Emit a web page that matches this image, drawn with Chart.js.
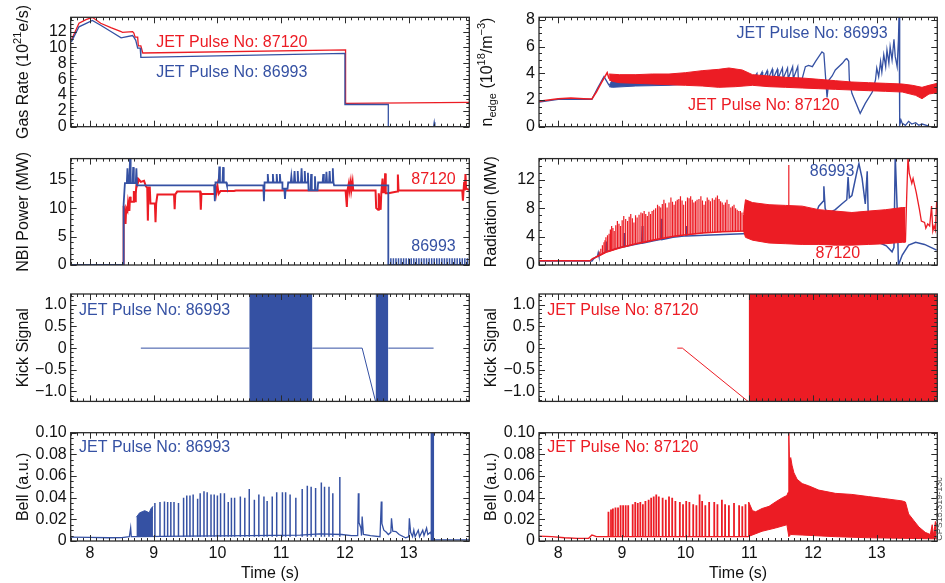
<!DOCTYPE html>
<html>
<head>
<meta charset="utf-8">
<script src="https://cdn.jsdelivr.net/npm/chart.js@4.4.1/dist/chart.umd.min.js"></script>
<style>
  body { margin: 0; background: #fff; }
  #wrap { position: relative; width: 945px; height: 583px; overflow: hidden; }
  #wrap canvas { position: absolute; }
</style>
</head>
<body>
<div id="wrap"></div>
<script>
// --- values (time in s) ---
const timeRange = [7.7, 13.95];
const timeTicks = [8, 9, 10, 11, 12, 13];

// gas rate (10^21 e/s)
const gasTicks = [0, 2, 4, 6, 8, 10, 12];
const gas87120 = [[7.71,10.9],[7.83,13.05],[7.94,13.5],[8.04,13.8],[8.17,13.05],[8.33,12.5],[8.49,12.0],[8.51,11.9],[8.67,12.0],[8.69,11.8],[8.71,11.3],[8.75,11.3],[8.76,10.2],[8.80,10.2],[8.83,9.3],[12.01,9.7],[12.01,2.95],[13.95,3.07]];
const gas86993 = [[7.71,10.7],[7.83,12.6],[7.96,13.1],[8.04,13.4],[8.17,12.8],[8.33,12.0],[8.49,11.2],[8.67,11.5],[8.69,11.3],[8.72,10.9],[8.75,9.9],[8.79,9.9],[8.80,8.75],[12.0,9.26],[12.0,2.8],[12.68,2.8],[12.68,0],[13.39,0],[13.40,0.55],[13.41,0],[13.95,0]];

// edge density (10^18 /m^3)
const nedgeTicks = [0, 2, 4, 6, 8];
const nedge87120 = [[7.70,1.9],[7.85,2.0],[8.0,2.1],[8.2,2.15],[8.4,2.1],[8.53,2.08],[8.60,2.6],[8.68,3.3],[8.77,4.05],[8.80,3.6]];
const nedge87120Hi = [[8.80,3.95],[8.96,3.9],[9.22,3.9],[9.48,3.95],[9.74,3.95],[10.0,4.05],[10.26,4.2],[10.52,4.3],[10.68,4.4],[10.89,4.25],[11.05,3.9],[11.31,3.8],[11.57,3.7],[11.83,3.65],[12.09,3.55],[12.35,3.45],[12.61,3.35],[12.87,3.3],[13.14,3.25],[13.40,3.2],[13.56,3.1],[13.71,2.95],[13.82,3.1],[13.95,3.25]];
const nedge87120Lo = [[8.80,3.5],[8.85,3.4],[8.96,3.3],[9.22,3.25],[9.48,3.2],[9.74,3.15],[10.0,3.1],[10.26,3.05],[10.52,2.95],[10.78,3.0],[11.05,3.1],[11.31,3.0],[11.57,2.95],[11.83,2.9],[12.09,2.85],[12.35,2.8],[12.61,2.75],[12.87,2.7],[13.14,2.65],[13.40,2.6],[13.61,2.35],[13.71,2.1],[13.82,2.45],[13.95,2.55]];
const nedge86993 = [[7.70,1.85],[8.0,2.05],[8.4,2.05],[8.53,2.05],[8.62,2.9],[8.72,3.75],[8.80,3.1]];
const nedge86993Hi = [[8.80,3.1],[8.85,3.5],[9.22,3.8],[9.74,3.9],[10.26,4.0],[10.78,4.0],[11.05,3.8]];
const nedge86993Lo = [[8.80,3.0],[8.85,2.95],[9.22,3.05],[9.74,3.1],[10.26,3.25],[10.78,3.3],[11.05,3.4]];
const nedge86993Saw = [[11.05,3.5],[11.12,4.0],[11.13,3.45],[11.20,4.1],[11.21,3.5],[11.28,4.2],[11.29,3.5],[11.36,4.3],[11.37,3.55],[11.44,4.3],[11.45,3.6],[11.52,4.4],[11.53,3.6],[11.60,4.4],[11.61,3.6],[11.68,4.5],[11.69,3.6],[11.76,4.5],[11.77,3.6],[11.83,3.6]];
const nedge86993Tail = [[11.83,3.6],[11.88,4.5],[11.93,4.6],[11.99,4.5],[12.04,4.9],[12.14,5.6],[12.17,5.5],[12.20,3.5],[12.22,2.2],[12.25,3.5],[12.30,3.8],[12.35,4.25],[12.46,4.75],[12.51,5.05],[12.53,5.1],[12.56,4.9],[12.57,3.5],[12.61,2.5],[12.74,1.0],[12.82,1.75],[12.93,2.6],[12.98,3.5],[13.00,4.4],[13.03,3.75],[13.06,4.9],[13.08,4.1],[13.11,5.4],[13.14,4.5],[13.16,5.75],[13.19,4.75],[13.21,6.0],[13.24,5.0],[13.27,6.55],[13.29,5.25],[13.32,4.5],[13.34,6.5],[13.35,8.5],[13.36,0.1],[13.38,0.5],[13.40,0.25],[13.45,0.1],[13.50,0.4],[13.55,0.2],[13.61,0.3],[13.66,0.1],[13.71,0.2],[13.82,0.05]];

// NBI power (MW)
const nbiTicks = [0, 5, 10, 15];
const nbi87120 = [[7.70,0],[8.53,0],[8.53,10.4],[8.55,9.0],[8.56,7.2],[8.57,10.0],[8.59,9.5],[8.60,11.0],[8.62,9.5],[8.63,12.0],[8.64,11.1],[8.68,11.1],[8.69,13.0],[8.71,11.2],[8.72,12.5],[8.74,15.4],[8.75,14.3],[8.77,15.0],[8.80,14.6],[8.85,14.8],[8.88,13.8],[8.90,13.6],[8.91,7.8],[8.92,13.6],[8.94,13.6],[8.95,10.8],[9.02,10.8],[9.03,7.5],[9.04,10.8],[9.06,12.4],[9.32,12.4],[9.33,9.8],[9.34,12.4],[9.37,12.9],[9.73,12.9],[9.74,9.7],[9.75,12.5],[9.95,12.5],[9.96,14.2],[9.98,12.5],[10.0,14.0],[10.02,12.5],[10.05,13.0],[10.26,13.0],[10.29,13.1],[12.01,13.1],[12.03,10.2],[12.04,13.1],[12.06,14.3],[12.07,13.1],[12.09,14.6],[12.10,13.1],[12.12,14.6],[12.13,13.1],[12.48,13.1],[12.49,10.0],[12.52,9.7],[12.53,12.6],[12.56,9.7],[12.57,12.6],[12.59,15.2],[12.60,12.8],[12.62,12.8],[12.63,16.1],[12.64,12.6],[12.68,12.6],[12.72,12.7],[12.82,12.9],[12.83,15.9],[12.84,13.1],[13.84,13.1],[13.85,11.3],[13.86,13.1],[13.87,14.6],[13.88,13.1],[13.89,16.0],[13.90,13.4],[13.95,13.2]];
const nbi86993 = [[7.70,0],[8.53,0],[8.53,10.7],[8.55,14.4],[8.58,14.4],[8.59,17.0],[8.60,14.4],[8.62,14.4],[8.63,18.7],[8.64,14.4],[8.67,14.4],[8.68,17.2],[8.69,14.4],[8.72,14.4],[8.73,17.0],[8.74,14.0],[9.95,14.0],[9.96,11.2],[9.97,14.5],[10.02,14.5],[10.03,17.3],[10.04,14.5],[10.08,14.5],[10.09,17.2],[10.10,14.5],[10.14,14.5],[10.15,14.0],[10.72,14.0],[10.73,11.2],[10.74,14.5],[10.78,14.5],[10.79,16.0],[10.80,14.5],[10.86,14.5],[10.87,16.0],[10.88,14.5],[10.92,14.5],[10.93,16.0],[10.94,14.5],[10.97,14.5],[10.98,16.0],[10.99,14.5],[11.02,14.5],[11.02,13.4],[11.05,13.4],[11.06,11.6],[11.07,13.4],[11.10,13.4],[11.11,14.5],[11.15,14.5],[11.16,15.6],[11.17,14.5],[11.20,14.5],[11.21,16.5],[11.22,14.5],[11.25,14.5],[11.26,16.5],[11.27,14.5],[11.31,14.5],[11.32,17.0],[11.33,14.5],[11.36,14.5],[11.37,16.5],[11.38,14.5],[11.41,14.5],[11.42,16.2],[11.43,13.1],[11.46,13.1],[11.47,16.0],[11.48,13.1],[11.52,13.1],[11.53,15.6],[11.54,13.1],[11.57,13.1],[11.58,14.5],[11.65,14.5],[11.66,16.0],[11.67,14.5],[11.70,14.5],[11.71,16.4],[11.72,14.5],[11.75,14.5],[11.76,16.5],[11.77,14.5],[11.80,14.5],[11.81,17.0],[11.82,14.5],[11.83,14.0],[12.68,14.0],[12.68,0],[13.95,0]];
const nbi86993Comb = [12.72,12.76,12.80,12.84,12.88,12.92,12.96,13.00,13.04,13.08,13.12,13.16,13.20,13.24,13.28,13.32,13.36,13.40,13.44,13.48,13.52,13.56,13.60,13.64,13.68,13.72,13.76,13.80,13.84,13.88,13.92];
const nbiCombTop = 1.2;

// radiation (MW)
const radTicks = [0, 4, 8, 12];
const rad87120Base = [[7.70,0.6],[8.50,0.6],[8.54,0.9],[8.62,1.2],[8.75,1.8],[8.96,2.4],[9.22,3.0],[9.53,3.6],[9.84,4.1],[10.26,4.5],[10.58,4.7],[10.94,4.8]];
const rad87120SpikeT = [8.62,8.67,8.72,8.75,8.80,8.84,8.88,8.93,8.98,9.03,9.09,9.14,9.19,9.24,9.30,9.35,9.40,9.45,9.50,9.56,9.61,9.66,9.71,9.77,9.82,9.87,9.92,9.97,10.03,10.08,10.13,10.18,10.24,10.29,10.34,10.39,10.45,10.50,10.55,10.60,10.65,10.71,10.76,10.81,10.86,10.91,11.62];
const rad87120SpikeLo = [1.2,1.4,1.6,1.8,1.9,2.0,2.1,2.3,2.4,2.5,2.6,2.8,2.9,3.0,3.0,3.1,3.2,3.3,3.4,3.5,3.6,3.7,3.8,3.9,4.0,4.0,4.1,4.2,4.2,4.3,4.3,4.4,4.4,4.5,4.5,4.5,4.6,4.6,4.6,4.7,4.7,4.7,4.7,4.8,4.8,4.8,8.4];
const rad87120SpikeHi = [1.4,2.3,3.2,3.9,4.4,5.5,4.8,6.2,5.5,6.9,6.2,7.2,6.0,6.7,7.4,7.6,6.9,7.2,7.8,8.5,8.1,9.2,8.1,9.5,8.5,9.2,9.7,8.5,9.5,9.7,8.8,9.2,9.7,8.5,9.5,9.0,9.2,9.8,9.0,8.5,9.2,8.1,8.5,7.8,7.6,7.1,14.1];
const rad87120MinorT = [8.645,8.695,8.735,8.775,8.82,8.86,8.905,8.955,9.005,9.06,9.115,9.165,9.215,9.27,9.325,9.375,9.425,9.475,9.53,9.585,9.635,9.685,9.74,9.795,9.845,9.895,9.945,10.0,10.055,10.105,10.155,10.21,10.265,10.315,10.365,10.42,10.475,10.525,10.575,10.625,10.68,10.735,10.785,10.835,10.885];
const rad87120MinorLo = [1.3,1.5,1.7,1.85,1.95,2.05,2.2,2.35,2.45,2.55,2.7,2.85,2.95,3.0,3.05,3.15,3.25,3.35,3.45,3.55,3.65,3.75,3.85,3.95,4.0,4.05,4.15,4.2,4.25,4.3,4.35,4.4,4.45,4.5,4.5,4.55,4.6,4.6,4.65,4.7,4.7,4.7,4.75,4.8,4.8];
const rad87120MinorHi = [1.9,2.8,3.5,4.2,5.0,5.2,5.6,5.8,6.3,6.5,6.8,6.6,7.0,7.1,7.3,7.2,7.5,7.6,8.0,8.3,8.6,8.7,8.8,8.9,9.0,9.3,9.1,9.0,9.4,9.2,9.0,9.3,9.1,9.0,9.2,9.4,9.5,9.3,8.8,8.8,8.6,8.3,8.0,7.6,7.4];
const rad87120Hi = [[10.91,7.1],[10.94,9.2],[11.05,8.8],[11.31,8.5],[11.57,8.4],[11.83,8.3],[12.09,7.8],[12.35,7.6],[12.61,7.4],[12.87,7.6],[13.14,7.8],[13.40,8.1],[13.45,8.1]];
const rad87120Lo = [[10.91,4.8],[10.94,3.9],[11.05,3.5],[11.31,3.1],[11.57,3.0],[11.83,2.9],[12.09,2.9],[12.35,2.8],[12.61,2.8],[12.87,2.9],[13.14,3.0],[13.40,3.2],[13.45,3.2]];
const rad87120Tail = [[13.45,3.2],[13.47,9.7],[13.49,15.2],[13.51,12.9],[13.55,11.5],[13.57,12.2],[13.62,10.2],[13.67,7.8],[13.70,6.2],[13.75,6.0],[13.77,5.2],[13.80,5.8],[13.83,5.5],[13.86,8.3],[13.88,4.8],[13.90,5.5],[13.92,4.9],[13.94,9.0]];
const rad86993 = [[7.70,0.55],[8.53,0.55],[8.56,0.9],[8.62,1.3],[8.63,1.7],[8.64,1.3],[8.75,1.9],[8.76,3.3],[8.77,1.9],[8.90,2.3],[9.03,2.6],[9.04,4.5],[9.05,2.6],[9.20,2.9],[9.31,3.1],[9.32,5.5],[9.33,3.1],[9.50,3.4],[9.61,3.6],[9.62,6.5],[9.63,3.6],[9.80,3.9],[10.00,4.1],[10.01,5.5],[10.02,4.1],[10.30,4.2],[10.60,4.3],[10.90,4.4],[11.20,4.5],[11.50,4.8],[11.80,5.0],[12.00,6.0],[12.09,8.3],[12.16,9.0],[12.17,11.1],[12.19,8.0],[12.22,7.2],[12.35,7.8],[12.45,8.6],[12.53,9.2],[12.55,12.4],[12.57,9.5],[12.61,9.8],[12.69,13.2],[12.72,14.3],[12.77,12.2],[12.82,8.6],[12.85,13.2],[12.87,5.5],[12.92,3.7],[13.05,3.1],[13.15,2.7],[13.24,1.85],[13.27,2.5],[13.29,15.5],[13.32,8.0],[13.34,0],[13.40,1.4],[13.50,2.8],[13.61,3.2],[13.75,2.9],[13.94,2.1]];

// kick signal
const kickTicks = [-1, -0.5, 0, 0.5, 1];
const kickLabels = ['\u22121.0', '\u22120.5', '0', '0.5', '1.0'];
const kick86993Flat = [[[8.80,0],[10.50,0]], [[11.49,0],[12.27,0],[12.48,-1.23]], [[12.68,0],[13.39,0]]];
const kick86993Bursts = [[10.50, 11.49], [12.48, 12.68]];
const kick87120Flat = [[[9.87,0],[9.95,0],[10.98,-1.23]]];
const kick87120Bursts = [[10.99, 13.95]];

// bell (a.u.)
const bellTicks = [0, 0.02, 0.04, 0.06, 0.08, 0.10];
const bellLabels = ['0', '0.02', '0.04', '0.06', '0.08', '0.10'];
const bellFloor = 0.004;
const bell86993Base = [[7.70,0.0035],[8.0,0.0033],[8.3,0.003],[8.50,0.0032],[8.62,0.004],[8.64,0.012],[8.65,0.004],[8.75,0.004],[9.5,0.0045],[10.5,0.005],[11.3,0.0055],[11.6,0.0065],[11.95,0.006],[12.1,0.005],[12.20,0.005],[12.21,0.044],[12.22,0.017],[12.25,0.012],[12.26,0.005],[12.27,0.0226],[12.29,0.006],[12.40,0.005],[12.55,0.004],[12.57,0.0365],[12.58,0.016],[12.61,0.010],[12.65,0.008],[12.68,0.006],[12.72,0.008],[12.73,0.021],[12.75,0.009],[12.80,0.0087],[12.85,0.006],[12.95,0.003],[13.00,0.004],[13.01,0.021],[13.03,0.008],[13.06,0.004],[13.08,0.010],[13.10,0.004],[13.15,0.010],[13.17,0.004],[13.22,0.010],[13.24,0.005],[13.28,0.012],[13.30,0.006],[13.34,0.008],[13.40,0.001],[13.95,0.001]];
const bell86993Block = [[8.73,0.022],[8.78,0.026],[8.82,0.027],[8.86,0.028],[8.90,0.027],[8.93,0.026],[8.96,0.030],[8.99,0.032]];
const bell86993SpikeT = [9.02,9.10,9.17,9.22,9.27,9.32,9.39,9.47,9.52,9.57,9.62,9.69,9.73,9.79,9.84,9.90,9.95,10.00,10.05,10.11,10.17,10.22,10.27,10.36,10.43,10.50,10.58,10.65,10.73,10.78,10.86,10.93,11.02,11.07,11.14,11.23,11.33,11.41,11.47,11.54,11.63,11.68,11.75,11.81,11.92];
const bell86993SpikeHi = [0.035,0.036,0.0365,0.036,0.036,0.036,0.035,0.040,0.042,0.042,0.043,0.039,0.044,0.046,0.045,0.043,0.043,0.042,0.044,0.044,0.036,0.040,0.040,0.041,0.040,0.048,0.038,0.043,0.041,0.037,0.041,0.045,0.045,0.045,0.043,0.040,0.048,0.051,0.050,0.049,0.054,0.050,0.050,0.044,0.059];
const bell86993Bursts = [[13.34, 13.40]];
const bell87120Base = [[7.70,0.0045],[7.90,0.004],[8.10,0.003],[8.30,0.0025],[8.48,0.0025],[8.53,0.0055],[8.56,0.005],[8.60,0.004],[10.98,0.004]];
const bell87120SpikeT = [8.79,8.83,8.86,8.90,8.94,8.98,9.02,9.06,9.10,9.17,9.21,9.25,9.29,9.33,9.37,9.42,9.46,9.50,9.54,9.58,9.64,9.69,9.74,9.79,9.84,9.91,9.96,10.01,10.06,10.12,10.17,10.22,10.26,10.31,10.37,10.45,10.50,10.57,10.62,10.68,10.76,10.84,10.89,10.94];
const bell87120SpikeHi = [0.027,0.029,0.030,0.031,0.031,0.033,0.033,0.033,0.033,0.034,0.036,0.035,0.036,0.034,0.037,0.038,0.040,0.041,0.043,0.041,0.040,0.038,0.041,0.040,0.037,0.036,0.034,0.037,0.036,0.034,0.033,0.043,0.037,0.033,0.036,0.036,0.034,0.038,0.034,0.033,0.035,0.033,0.032,0.034];
const bell87120Hi = [[10.98,0.004],[10.99,0.036],[11.05,0.028],[11.10,0.027],[11.20,0.030],[11.31,0.032],[11.41,0.036],[11.52,0.040],[11.59,0.042],[11.61,0.045],[11.62,0.10],[11.63,0.075],[11.65,0.077],[11.67,0.070],[11.70,0.063],[11.75,0.057],[11.83,0.053],[11.93,0.051],[12.09,0.047],[12.35,0.044],[12.61,0.043],[12.87,0.041],[13.14,0.039],[13.40,0.037],[13.45,0.036],[13.50,0.025],[13.58,0.019],[13.66,0.013],[13.76,0.008],[13.84,0.006],[13.87,0.015],[13.89,0.005],[13.92,0.018],[13.94,0.015]];
const bell87120Lo = [[10.98,0.004],[11.20,0.009],[11.41,0.012],[11.59,0.015],[11.62,0.004],[11.65,0.006],[11.83,0.0055],[12.35,0.004],[12.87,0.003],[13.40,0.0025],[13.94,0.002]];

// --- drawing ---
const RED = '#ec1c24';
const BLUE = '#3551a3';
const INK = '#111';
Chart.defaults.font.family = '"Liberation Sans", Arial, Helvetica, sans-serif';
Chart.defaults.font.size = 16;
Chart.defaults.color = INK;

const COLS = [
  { left: 0, width: 470, yWidth: 70.7, padRight: 0.7, titleX: 28.3 },
  { left: 470, width: 475, yWidth: 69, padRight: 7.7, titleX: 25.5 }
];
const ROWS = [
  { top: 0, height: 145, padTop: 17.3, padBottom: 18.3 },
  { top: 145, height: 135, padTop: 11.7, padBottom: 15 },
  { top: 280, height: 135, padTop: 14, padBottom: 11.7 },
  { top: 415, height: 168, padTop: 17.7, padBottom: 0, xAxis: 42 }
];

const pts = arr => arr.map(([x, y]) => ({ x, y }));
const spikes = (times, lows, highs) => times.flatMap((t, i) => [{ x: t, y: lows[i] }, { x: t, y: highs[i] }, { x: t, y: null }]);
const pieces = list => list.flatMap(s => [...pts(s), { x: s[s.length - 1][0], y: null }]);

function line(data, color, width, extra) {
  return Object.assign({
    data, borderColor: color, backgroundColor: color, borderWidth: width,
    pointRadius: 0, fill: false, tension: 0, spanGaps: false, clip: 0
  }, extra || {});
}
function band(lo, hi, color) {
  return [line(pts(lo), color, 1), line(pts(hi), color, 1, { fill: '-1' })];
}
function bursts(pairs, color, lo, hi) {
  return pairs.map(([s, e]) => line([{ x: s, y: hi }, { x: e, y: hi }], color, 0, { fill: { value: lo } }));
}
function constant(list, v) { return list.map(() => v); }

function drawRich(ctx, parts, bx, cy) {
  ctx.save();
  ctx.translate(bx, cy);
  ctx.rotate(-Math.PI / 2);
  ctx.fillStyle = INK;
  ctx.textBaseline = 'alphabetic';
  const font = p => (p.s ? '11px' : '16px') + ' "Liberation Sans", Arial, sans-serif';
  let w = 0;
  parts.forEach(p => { ctx.font = font(p); w += ctx.measureText(p.t).width; });
  let cx = -w / 2;
  parts.forEach(p => {
    ctx.font = font(p);
    ctx.fillText(p.t, cx, p.s === 'sup' ? -7 : p.s === 'sub' ? 4 : 0);
    cx += ctx.measureText(p.t).width;
  });
  ctx.restore();
}

function framePlugin(cfg, col) {
  return {
    id: 'frame',
    afterDatasetsDraw(chart) {
      const { ctx, chartArea: a, scales: { x, y } } = chart;
      ctx.save();
      ctx.strokeStyle = '#2a2a2a';
      ctx.lineWidth = 1;
      ctx.beginPath();
      const n0 = Math.ceil(x.min * 10 - 1e-6), n1 = Math.floor(x.max * 10 + 1e-6);
      for (let n = n0; n <= n1; n++) {
        const px = Math.round(x.getPixelForValue(n / 10)) + 0.5;
        const len = n % 10 === 0 ? 6 : 3;
        ctx.moveTo(px, a.bottom); ctx.lineTo(px, a.bottom - len);
        ctx.moveTo(px, a.top); ctx.lineTo(px, a.top + len);
      }
      const m0 = Math.ceil(y.min / cfg.minor - 1e-6), m1 = Math.floor(y.max / cfg.minor + 1e-6);
      for (let m = m0; m <= m1; m++) {
        const v = m * cfg.minor;
        const py = Math.round(y.getPixelForValue(v)) + 0.5;
        const major = cfg.yTicks.some(t => Math.abs(t - v) < cfg.minor / 10);
        const len = major ? 6 : 3;
        ctx.moveTo(a.left, py); ctx.lineTo(a.left + len, py);
        ctx.moveTo(a.right, py); ctx.lineTo(a.right - len, py);
      }
      ctx.stroke();
      ctx.lineWidth = 1.3;
      ctx.strokeRect(a.left, a.top, a.right - a.left, a.bottom - a.top);
      ctx.restore();
    },
    afterDraw(chart) {
      const { ctx, chartArea: a, scales: { x, y } } = chart;
      ctx.save();
      ctx.font = '16px "Liberation Sans", Arial, sans-serif';
      ctx.textAlign = 'left';
      ctx.textBaseline = 'alphabetic';
      (cfg.notes || []).forEach(n => {
        ctx.fillStyle = n.c;
        ctx.fillText(n.t, x.getPixelForValue(n.x), y.getPixelForValue(n.y));
      });
      ctx.restore();
      drawRich(ctx, cfg.title, cfg.titleX != null ? cfg.titleX : col.titleX, (a.top + a.bottom) / 2);
      if (cfg.stamp) {
        ctx.save();
        ctx.translate(cfg.stamp.x, cfg.stamp.y);
        ctx.rotate(-Math.PI / 2);
        ctx.fillStyle = '#555';
        ctx.font = '9px "Liberation Sans", Arial, sans-serif';
        ctx.textAlign = 'center';
        ctx.fillText(cfg.stamp.t, 0, 0);
        ctx.restore();
      }
    }
  };
}

const wrap = document.getElementById('wrap');

function panel(cfg) {
  const col = COLS[cfg.col], row = ROWS[cfg.row];
  const cv = document.createElement('canvas');
  cv.width = col.width; cv.height = row.height;
  cv.style.left = col.left + 'px'; cv.style.top = row.top + 'px';
  wrap.appendChild(cv);
  cfg.datasets.forEach((d, i) => { d.order = -i; });
  const bottom = cfg.row === 3;
  const labels = cfg.yLabels || cfg.yTicks.map(String);
  return new Chart(cv, {
    type: 'line',
    data: { datasets: cfg.datasets },
    options: {
      responsive: false,
      animation: false,
      events: [],
      layout: { autoPadding: false, padding: { left: 0, right: col.padRight, top: row.padTop, bottom: row.padBottom } },
      plugins: { legend: { display: false }, tooltip: { enabled: false } },
      scales: {
        x: {
          type: 'linear', min: timeRange[0], max: timeRange[1], display: bottom,
          grid: { display: false, drawTicks: false }, border: { display: false },
          afterBuildTicks: s => { s.ticks = timeTicks.map(v => ({ value: v })); },
          afterFit: s => { if (row.xAxis) s.height = row.xAxis; },
          ticks: { padding: 3, maxRotation: 0, autoSkip: false, callback: v => String(v) },
          title: { display: bottom, text: 'Time (s)', padding: 0 }
        },
        y: {
          type: 'linear', min: cfg.yRange[0], max: cfg.yRange[1],
          grid: { display: false, drawTicks: false }, border: { display: false },
          afterBuildTicks: s => { s.ticks = cfg.yTicks.map(v => ({ value: v })); },
          afterFit: s => { s.width = col.yWidth; },
          ticks: { padding: 4, autoSkip: false, callback: v => labels[cfg.yTicks.findIndex(t => Math.abs(t - v) < 1e-9)] }
        }
      }
    },
    plugins: [framePlugin(cfg, col)]
  });
}

// row 1
panel({
  col: 0, row: 0, yRange: [0, 13.8], yTicks: gasTicks, minor: 0.5,
  title: [{ t: 'Gas Rate (10' }, { t: '21', s: 'sup' }, { t: 'e/s)' }],
  notes: [{ t: 'JET Pulse No: 87120', x: 9.04, y: 10.1, c: RED }, { t: 'JET Pulse No: 86993', x: 9.04, y: 6.3, c: BLUE }],
  datasets: [line(pts(gas87120), RED, 1.3), line(pts(gas86993), BLUE, 1.3)]
});
panel({
  col: 1, row: 0, yRange: [0, 8.2], yTicks: nedgeTicks, minor: 0.5, titleX: 22,
  title: [{ t: 'n' }, { t: 'edge', s: 'sub' }, { t: ' (10' }, { t: '18', s: 'sup' }, { t: '/m' }, { t: '\u22123', s: 'sup' }, { t: ')' }],
  notes: [{ t: 'JET Pulse No: 86993', x: 10.80, y: 6.63, c: BLUE }, { t: 'JET Pulse No: 87120', x: 10.04, y: 1.25, c: RED }],
  datasets: [
    ...band(nedge86993Lo, nedge86993Hi, BLUE),
    line(pts(nedge86993), BLUE, 1.3),
    line(pts(nedge86993Saw), BLUE, 1.3),
    line(pts(nedge86993Tail), BLUE, 1.3),
    ...band(nedge87120Lo, nedge87120Hi, RED),
    line(pts(nedge87120), RED, 1.5)
  ]
});

// row 2
panel({
  col: 0, row: 1, yRange: [0, 18.7], yTicks: nbiTicks, minor: 1,
  title: [{ t: 'NBI Power (MW)' }],
  notes: [{ t: '87120', x: 13.04, y: 14.24, c: RED }, { t: '86993', x: 13.04, y: 2.42, c: BLUE }],
  datasets: [
    line(pts(nbi87120), RED, 2),
    line(pts(nbi86993), BLUE, 1.8),
    line(spikes(nbi86993Comb, constant(nbi86993Comb, 0), constant(nbi86993Comb, nbiCombTop)), BLUE, 1.5)
  ]
});
panel({
  col: 1, row: 1, yRange: [0, 15], yTicks: radTicks, minor: 1,
  title: [{ t: 'Radiation (MW)' }],
  notes: [{ t: '86993', x: 11.95, y: 12.55, c: BLUE }, { t: '87120', x: 12.04, y: 0.93, c: RED }],
  datasets: [
    line(pts(rad86993), BLUE, 1.5),
    line(pts(rad87120Base), RED, 1.5),
    line(spikes(rad87120MinorT, rad87120MinorLo, rad87120MinorHi), RED, 1.2),
    line(spikes(rad87120SpikeT, rad87120SpikeLo, rad87120SpikeHi), RED, 1.2),
    ...band(rad87120Lo, rad87120Hi, RED),
    line(pts(rad87120Tail), RED, 1.3)
  ]
});

// row 3
panel({
  col: 0, row: 2, yRange: [-1.23, 1.25], yTicks: kickTicks, yLabels: kickLabels, minor: 0.1,
  title: [{ t: 'Kick Signal' }],
  notes: [{ t: 'JET Pulse No: 86993', x: 7.83, y: 0.775, c: BLUE }],
  datasets: [line(pieces(kick86993Flat), BLUE, 1), ...bursts(kick86993Bursts, BLUE, -1.3, 1.3)]
});
panel({
  col: 1, row: 2, yRange: [-1.23, 1.25], yTicks: kickTicks, yLabels: kickLabels, minor: 0.1,
  title: [{ t: 'Kick Signal' }],
  notes: [{ t: 'JET Pulse No: 87120', x: 7.83, y: 0.775, c: RED }],
  datasets: [line(pieces(kick87120Flat), RED, 1), ...bursts(kick87120Bursts, RED, -1.3, 1.3)]
});

// row 4
panel({
  col: 0, row: 3, yRange: [0, 0.1], yTicks: bellTicks, yLabels: bellLabels, minor: 0.005,
  title: [{ t: 'Bell (a.u.)' }],
  notes: [{ t: 'JET Pulse No: 86993', x: 7.83, y: 0.082, c: BLUE }],
  datasets: [
    line(pts(bell86993Base), BLUE, 1.3),
    line(pts(bell86993Block), BLUE, 1, { fill: { value: bellFloor } }),
    line(spikes(bell86993SpikeT, constant(bell86993SpikeT, bellFloor), bell86993SpikeHi), BLUE, 1.5),
    ...bursts(bell86993Bursts, BLUE, 0, 0.11)
  ]
});
panel({
  col: 1, row: 3, yRange: [0, 0.1], yTicks: bellTicks, yLabels: bellLabels, minor: 0.005,
  title: [{ t: 'Bell (a.u.)' }],
  notes: [{ t: 'JET Pulse No: 87120', x: 7.83, y: 0.082, c: RED }],
  stamp: { t: 'CPS15.319-13c', x: 472, y: 94 },
  datasets: [
    line(pts(bell87120Base), RED, 1.3),
    line(spikes(bell87120SpikeT, constant(bell87120SpikeT, bellFloor), bell87120SpikeHi), RED, 1.8),
    ...band(bell87120Lo, bell87120Hi, RED)
  ]
});
</script>
</body>
</html>
